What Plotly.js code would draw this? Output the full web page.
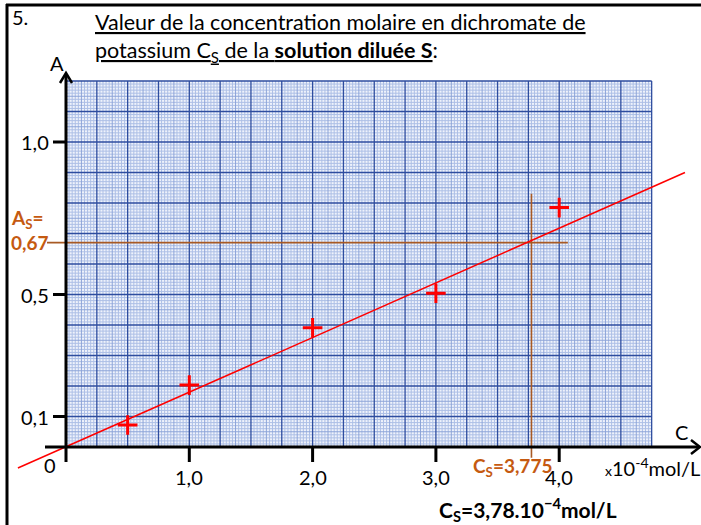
<!DOCTYPE html>
<html><head><meta charset="utf-8">
<script src="https://cdn.plot.ly/plotly-3.0.1.min.js"></script>
<style>html,body{margin:0;padding:0;background:#fff}#chart{width:701px;height:525px}</style>
</head><body><div id="chart"></div>
<script>
// ---- data ----
const concC = [0.5, 1.0, 2.0, 3.0, 4.0];            // C (x10^-4 mol/L)
const absA  = [0.072, 0.203, 0.391, 0.504, 0.785];  // absorbance A
const fitC  = [-0.39, 5.02];                        // regression line ends
const fitA  = [-0.069, 0.90];
const Cs = 3.775;
const As = 0.67;
const xTickVals = [1, 2, 3, 4];
const xTickText = ['1,0', '2,0', '3,0', '4,0'];
const yTickVals = [0.1, 0.5, 1.0];
const yTickText = ['0,1', '0,5', '1,0'];

// ---- geometry ----
const W = 701, H = 525;
const SX = 123.3, OX = 66, SY = 305, OY = 447;
const xr = [(0 - OX) / SX, (W - OX) / SX];
const yr = [(OY - H) / SY, OY / SY];
const px = v => v / W;
const py = v => 1 - v / H;

const FONT = 'Lato, "Open Sans", sans-serif';
const ORANGE = '#c55a11';
const BROWN = '#a85a24';

// ---- graph paper grid ----
const gridXmax = 4.75, gridYmax = 1.2;
function gridTrace(kind) {
  const xs = [], ys = [];
  const nx = Math.round(gridXmax / 0.025), ny = Math.round(gridYmax / 0.01);
  for (let i = 0; i <= nx; i++) {
    const t = i % 10 === 0 ? 'thick' : (i % 5 === 0 ? 'mid' : 'fine');
    if (t !== kind) continue;
    const x = i * 0.025;
    xs.push(x, x, null); ys.push(0, gridYmax, null);
  }
  for (let j = 0; j <= ny; j++) {
    const t = j % 10 === 0 ? 'thick' : (j % 5 === 0 ? 'mid' : 'fine');
    if (t !== kind) continue;
    const y = j * 0.01;
    xs.push(0, gridXmax, null); ys.push(y, y, null);
  }
  const style = {
    fine:  {color: '#adbfe6', width: 1},
    mid:   {color: '#8da4d8', width: 1},
    thick: {color: '#2e4d9f', width: 1.3}
  }[kind];
  return {x: xs, y: ys, mode: 'lines', line: style, hoverinfo: 'skip', showlegend: false};
}

const traces = [
  {x: [0, gridXmax, gridXmax, 0, 0], y: [0, 0, gridYmax, gridYmax, 0], mode: 'lines',
   fill: 'toself', fillcolor: '#eef2fb', line: {width: 0}, hoverinfo: 'skip', showlegend: false},
  gridTrace('fine'), gridTrace('mid'), gridTrace('thick'),
  {x: [-0.154, 4.07], y: [As, As], mode: 'lines', line: {color: BROWN, width: 1.6}, showlegend: false},
  {x: [Cs, Cs], y: [-0.035, 0.83], mode: 'lines', line: {color: BROWN, width: 1.6}, showlegend: false},
  {x: fitC, y: fitA, mode: 'lines', line: {color: '#ff0000', width: 1.5}, showlegend: false},
  {x: concC, y: absA, mode: 'markers', showlegend: false,
   marker: {symbol: 'cross-thin', size: 14, color: '#ff0000', line: {color: '#ff0000', width: 3}}}
];

// ---- axes decoration ----
const shapes = [
  // frame
  {type: 'line', xref: 'paper', yref: 'paper', x0: px(7), x1: px(7), y0: py(4), y1: py(H), line: {color: '#000', width: 3}},
  {type: 'line', xref: 'paper', yref: 'paper', x0: px(6), x1: px(W), y0: py(5), y1: py(5), line: {color: '#000', width: 3}},
  // y axis with arrow
  {type: 'line', xref: 'paper', yref: 'paper', x0: px(OX), x1: px(OX), y0: py(462), y1: py(74), line: {color: '#000', width: 3}},
  {type: 'path', xref: 'paper', yref: 'paper',
   path: `M${px(OX - 6)},${py(83)} L${px(OX)},${py(73)} L${px(OX + 6)},${py(83)}`, line: {color: '#000', width: 2.5}},
  // x axis with arrow
  {type: 'line', xref: 'paper', yref: 'paper', x0: px(45), x1: px(699), y0: py(OY), y1: py(OY), line: {color: '#000', width: 3}},
  {type: 'path', xref: 'paper', yref: 'paper',
   path: `M${px(691)},${py(440)} L${px(700)},${py(OY)} L${px(691)},${py(454)}`, line: {color: '#000', width: 2.5}}
];
xTickVals.forEach(v => shapes.push({type: 'line', xref: 'x', yref: 'paper', x0: v, x1: v, y0: py(OY), y1: py(462), line: {color: '#000', width: 3}}));
yTickVals.forEach(v => shapes.push({type: 'line', xref: 'paper', yref: 'y', x0: px(53), x1: px(OX), y0: v, y1: v, line: {color: '#000', width: 3}}));

// ---- texts ----
const T = (text, x, y, xa, opts = {}) => Object.assign({
  text, x: px(x), y: py(y), xref: 'paper', yref: 'paper', xanchor: xa, yanchor: 'middle',
  showarrow: false, font: {family: FONT, size: 20, color: '#000'}
}, opts);

const annotations = [
  T('5.', 10, 17, 'left'),
  T('<u>Valeur de la concentration molaire en dichromate de</u>', 93, 22, 'left', {font: {family: FONT, size: 21.5, color: '#000'}}),
  T('<u>potassium C<sub>S</sub> de la <b>solution diluée S</b></u>:', 93, 51, 'left', {font: {family: FONT, size: 21.5, color: '#000'}}),
  T('A', 57, 63, 'center'),
  T('C', 681, 432, 'center'),
  T('<span style="font-size:14px">x</span>10<sup>-4</sup>mol/L', 702, 467, 'right'),
  T('0', 50, 465, 'center'),
  T('<b>A<sub>S</sub>=</b>', 9, 219, 'left', {font: {family: FONT, size: 19, color: ORANGE}}),
  T('<b>0,67</b>', 9, 242, 'left', {font: {family: FONT, size: 19, color: ORANGE}}),
  T('<b>C<sub>S</sub>=3,775</b>', 471, 467, 'left', {font: {family: FONT, size: 19, color: ORANGE}}),
  T('<b>C<sub>S</sub>=3,78.10<sup>−4</sup>mol/L</b>', 437, 509, 'left', {font: {family: FONT, size: 21, color: '#000'}})
];
xTickVals.forEach((v, i) => annotations.push({text: xTickText[i], x: v, y: py(477), xref: 'x', yref: 'paper',
  xanchor: 'center', yanchor: 'middle', showarrow: false, font: {family: FONT, size: 20, color: '#000'}}));
yTickVals.forEach((v, i) => annotations.push({text: yTickText[i], x: px(51), y: v, xref: 'paper', yref: 'y',
  xanchor: 'right', yanchor: 'middle', showarrow: false, font: {family: FONT, size: 20, color: '#000'}}));

const layout = {
  width: W, height: H,
  margin: {l: 0, r: 0, t: 0, b: 0, pad: 0, autoexpand: false},
  paper_bgcolor: '#fff', plot_bgcolor: 'rgba(0,0,0,0)',
  xaxis: {range: xr, visible: false, fixedrange: true},
  yaxis: {range: yr, visible: false, fixedrange: true},
  shapes, annotations, showlegend: false, hovermode: false
};
Plotly.newPlot('chart', traces, layout, {staticPlot: true, displayModeBar: false});
</script></body></html>
